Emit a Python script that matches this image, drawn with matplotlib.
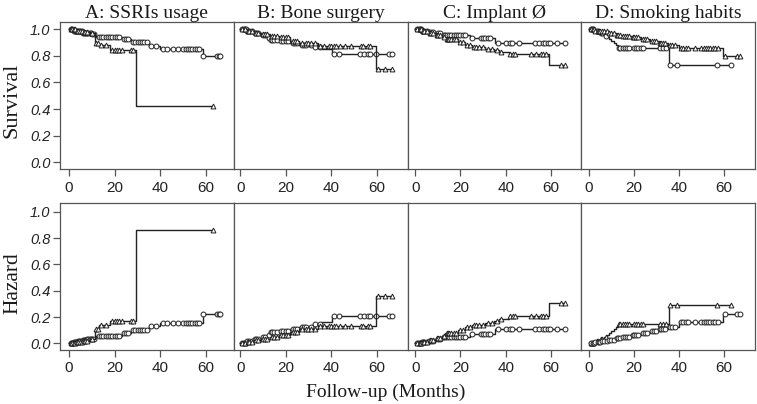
import numpy as np
import matplotlib
matplotlib.use("Agg")
import matplotlib.pyplot as plt

# ---- data (step times, survival, cumulative hazard, censored times) ----
# A: SSRIs usage
a_circ_t = [0, 2, 4, 6, 8, 10, 12, 23, 27, 35, 40, 58.5]
a_circ_s = [1.0, 0.99, 0.985, 0.975, 0.97, 0.965, 0.945, 0.925, 0.905, 0.875, 0.855, 0.80]
a_circ_h = [0, 0.01, 0.015, 0.025, 0.03, 0.035, 0.058, 0.078, 0.10, 0.135, 0.157, 0.225]
a_circ_cens = [1, 1.5, 2, 2.5, 3, 3.5, 4, 4.5, 5, 5.5, 6, 6.5, 7, 7.5, 8, 8.5, 9, 9.5, 10, 11,
               13, 14, 15, 16, 17, 18, 19, 20, 21, 22, 24, 25, 26, 28, 29, 30, 31, 32, 33, 34,
               36, 38, 41, 43, 45.5, 47.5, 50, 51, 52, 53, 54, 55, 56, 57, 58.8, 64.6, 65.5, 66]
a_tri_t = [0, 3, 6, 9, 11.5, 13, 18, 29.5]
a_tri_s = [1.0, 0.99, 0.98, 0.97, 0.90, 0.88, 0.848, 0.42]
a_tri_h = [0, 0.01, 0.02, 0.03, 0.11, 0.14, 0.168, 0.86]
a_tri_cens = [1, 1.5, 2, 2.5, 3.5, 4, 5, 5.5, 6.5, 7, 8, 10, 12, 12.5, 14, 16, 19, 20, 21, 22,
              23, 27, 28, 63]

# B: Bone surgery
b_circ_t = [0, 3, 6, 9, 12, 13, 17, 22, 26, 32, 36, 40.5]
b_circ_s = [1.0, 0.985, 0.97, 0.955, 0.935, 0.92, 0.91, 0.895, 0.88, 0.865, 0.85, 0.815]
b_circ_h = [0, 0.015, 0.03, 0.046, 0.067, 0.083, 0.094, 0.111, 0.128, 0.145, 0.163, 0.205]
b_circ_cens = [1, 1.5, 2, 2.5, 3, 4, 5, 6.5, 7, 8, 10, 11, 12.5, 13.5, 14, 15, 16, 18, 19, 20,
               21, 23, 24, 25, 27, 28, 29, 31, 33, 35, 41, 43.5, 52.5, 54.5, 56, 57, 59.5,
               65.5, 66.5]
b_tri_t = [0, 3, 6, 9, 13, 17, 22, 26, 34, 59.8]
b_tri_s = [1.0, 0.99, 0.975, 0.965, 0.95, 0.94, 0.915, 0.895, 0.878, 0.70]
b_tri_h = [0, 0.01, 0.025, 0.036, 0.051, 0.062, 0.089, 0.111, 0.135, 0.36]
b_tri_cens = [1, 2, 3.5, 4, 5, 7, 8, 10, 11, 12, 14, 15, 16, 18, 19, 20, 21, 23, 24, 25,
              27, 29, 30, 31, 33, 35, 37, 39, 40, 41, 42, 44, 46, 48.5, 53, 54, 56, 57,
              60.5, 63.5, 66.5]

# C: Implant diameter
c_circ_t = [0, 3, 6, 9, 12, 24, 35.3]
c_circ_s = [1.0, 0.99, 0.98, 0.97, 0.96, 0.935, 0.895]
c_circ_h = [0, 0.01, 0.02, 0.03, 0.045, 0.075, 0.113]
c_circ_cens = [1, 1.5, 2, 2.5, 3, 3.5, 4, 5, 6, 7, 8, 10, 11, 12.5, 13, 14, 15, 16, 17, 18,
               19, 20, 21, 22, 25, 29, 30, 31, 32, 33, 36.5, 40.3, 41.7, 42.8, 46, 53, 54.5,
               56.7, 57.5, 58.5, 59.5, 62.7, 66.4]
c_tri_t = [0, 3, 6, 9, 12, 13, 19, 22, 25, 31, 35, 37, 41.5, 59.2]
c_tri_s = [1.0, 0.99, 0.975, 0.96, 0.945, 0.925, 0.905, 0.885, 0.87, 0.855, 0.845, 0.83,
           0.815, 0.735]
c_tri_h = [0, 0.01, 0.025, 0.041, 0.057, 0.078, 0.10, 0.122, 0.139, 0.157, 0.168, 0.186,
           0.205, 0.31]
c_tri_cens = [1, 2, 2.5, 3.5, 4, 5, 6.5, 7, 8, 9.5, 10, 11, 12.5, 14, 14.5, 15, 16, 17, 18,
              20, 21, 23, 24, 26, 27, 28, 30, 32, 34, 36, 38, 42, 43, 44, 51, 53.5, 55.5,
              56.5, 58, 64.5, 66]

# D: Smoking habits (steep group / gradual group)
d_steep_t = [0, 3, 5, 7, 8, 9, 10, 11, 12, 13, 35.6]
d_steep_s = [1.0, 0.985, 0.97, 0.95, 0.94, 0.925, 0.91, 0.895, 0.88, 0.862, 0.735]
d_steep_h = [0, 0.015, 0.03, 0.051, 0.062, 0.078, 0.094, 0.111, 0.128, 0.145, 0.295]
d_steep_cens = [1, 1.5, 2, 3.5, 4, 5.5, 6, 7.5, 13.5, 14, 15, 16, 17, 18, 20, 21, 22, 23, 24,
                31.5, 33, 34.5, 36, 39, 57, 63]
d_grad_t = [0, 3, 6, 9, 12, 15, 19, 23, 27, 31, 35, 40, 59.8]
d_grad_s = [1.0, 0.99, 0.985, 0.975, 0.96, 0.95, 0.94, 0.925, 0.91, 0.895, 0.88, 0.86, 0.80]
d_grad_h = [0, 0.01, 0.015, 0.025, 0.041, 0.051, 0.062, 0.078, 0.094, 0.111, 0.128, 0.16,
            0.222]
d_grad_cens = [1, 2, 2.5, 3, 4, 4.5, 5, 6, 7, 8, 9, 10, 11, 12.5, 13, 14, 15, 16, 17, 18,
               19.5, 20, 21, 22, 24, 25, 26, 28, 29, 30, 31.5, 32, 33, 34, 36, 37, 38.5, 41,
               42, 43, 44, 47, 50, 51, 52, 53, 54, 55, 56, 57.5, 60.5, 66, 67]

titles = ["A: SSRIs usage", "B: Bone surgery", "C: Implant Ø", "D: Smoking habits"]
xticks = [0, 20, 40, 60]
yticks = [0.0, 0.2, 0.4, 0.6, 0.8, 1.0]

# (times, surv, haz, censored, marker in survival row, marker in hazard row)
panels = [
    [(a_circ_t, a_circ_s, a_circ_h, a_circ_cens, "o", "o"),
     (a_tri_t, a_tri_s, a_tri_h, a_tri_cens, "^", "^")],
    [(b_circ_t, b_circ_s, b_circ_h, b_circ_cens, "o", "o"),
     (b_tri_t, b_tri_s, b_tri_h, b_tri_cens, "^", "^")],
    [(c_circ_t, c_circ_s, c_circ_h, c_circ_cens, "o", "o"),
     (c_tri_t, c_tri_s, c_tri_h, c_tri_cens, "^", "^")],
    [(d_steep_t, d_steep_s, d_steep_h, d_steep_cens, "o", "^"),
     (d_grad_t, d_grad_s, d_grad_h, d_grad_cens, "^", "o")],
]
xlims = [(-3.9, 72.1), (-2.8, 73.5), (-3.4, 73.4), (-3.3, 73.8)]

serif = ["Liberation Serif", "DejaVu Serif"]
sans = ["Liberation Sans", "DejaVu Sans"]
ink = "#222222"


def draw_km(ax, t, v, cens, marker):
    t = np.asarray(t, float)
    v = np.asarray(v, float)
    cens = np.asarray(cens, float)
    end = max(t[-1], cens.max())
    ax.step(np.append(t, end), np.append(v, v[-1]), where="post", color=ink, lw=1.0)
    idx = np.searchsorted(t, cens, side="right") - 1
    ax.plot(cens, v[idx], linestyle="none", marker=marker, ms=3.5, mfc="white",
            mec=ink, mew=0.7)


fig, axes = plt.subplots(2, 4, figsize=(7.57, 4.04), dpi=100)
fig.subplots_adjust(left=0.0793, right=0.9974, top=0.9455, bottom=0.1337, wspace=0, hspace=0.224)

for col in range(4):
    for row in range(2):
        ax = axes[row, col]
        for t, s, h, cens, m_s, m_h in panels[col]:
            if row == 0:
                draw_km(ax, t, s, cens, m_s)
            else:
                draw_km(ax, t, h, cens, m_h)
        ax.set_xlim(*xlims[col])
        if row == 0:
            ax.set_ylim(-0.056, 1.056)
        else:
            ax.set_ylim(-0.05, 1.07)
        ax.set_xticks(xticks)
        ax.set_xticklabels([str(x) for x in xticks], fontfamily=sans, fontsize=11, color="#222222")
        ax.tick_params(axis="x", length=5, width=0.9, color="#555555", pad=3)
        if col == 0:
            ax.set_yticks(yticks)
            ax.set_yticklabels(["%.1f" % y for y in yticks], fontfamily=sans, fontsize=10.5,
                               fontstyle="italic", color="#222222")
            ax.tick_params(axis="y", length=5, width=0.9, color="#555555", pad=2)
        else:
            ax.set_yticks([])
        for sp in ax.spines.values():
            sp.set_color("#555555")
            sp.set_linewidth(0.9)
        if row == 0:
            ax.set_title(titles[col], fontfamily=serif, fontsize=14, pad=3, color="#1a1a1a")

fig.text(0.0165, 0.752, "Survival", rotation=90, ha="center", va="center",
         fontfamily=serif, fontsize=16, color="#1a1a1a")
fig.text(0.0165, 0.30, "Hazard", rotation=90, ha="center", va="center",
         fontfamily=serif, fontsize=15.5, color="#1a1a1a")
fig.text(0.51, 0.03, "Follow-up (Months)", ha="center", va="center",
         fontfamily=serif, fontsize=14, color="#1a1a1a")

fig.savefig("out.png", dpi=100)
